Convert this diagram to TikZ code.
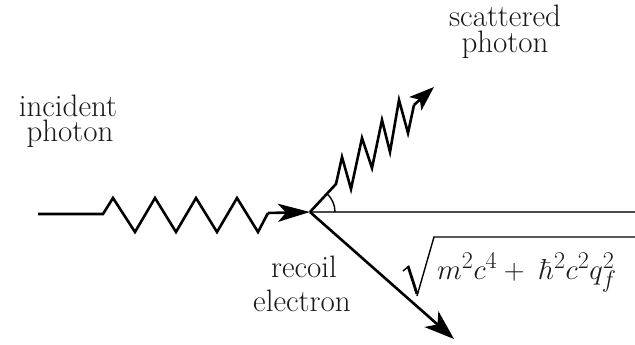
\documentclass[tikz,border=0pt]{standalone}
\usetikzlibrary{arrows.meta}
\tikzset{
  lbl/.style={font=\fontsize{31}{32}\selectfont, text=black!90, inner sep=0pt, anchor=base},
  wave/.style={line width=2.6pt, line join=miter},
  tipin/.style={-{Stealth[length=32pt,width=18pt,inset=8pt]}},
  tipsc/.style={-{Stealth[length=25pt,width=18pt,inset=6pt]}},
  tipel/.style={-{Stealth[length=30pt,width=21pt,inset=8pt]}},
  axisline/.style={line width=2.8pt, draw=black!70},
  thin/.style={line width=1.4pt},
}
\begin{document}
\begin{tikzpicture}[x=1pt,y=-1pt]
\useasboundingbox (0,0) rectangle (635,345);
\clip (0,0) rectangle (635,345);
% key points
\coordinate (v) at (310,212);
\coordinate (a) at (38,214);
\coordinate (b) at (268,213);
\coordinate (s0) at (336,184);
\coordinate (s1) at (414,105);
\coordinate (st) at (434,87);
\coordinate (e) at (454,339);
\coordinate (r) at (640,212);
\coordinate (rt) at (640,237);
% horizontal axis
\draw[axisline] (v) -- (r);
% incident photon
\draw[wave] (a) -- (103,214) -- (113,198) -- (135,232) -- (155,198) -- (176,232)
  -- (196,198) -- (217,232) -- (237,198) -- (258,232) -- (b);
\draw[wave, tipin] (b) -- (v);
% scattered photon
\draw[wave] (v) -- (s0) -- (342,157) -- (351,189) -- (362,138) -- (372,168)
  -- (382,120) -- (390,152) -- (399,100) -- (408,133) -- (s1);
\draw[wave, tipsc] (s1) -- (st);
% angle arc
\draw[thin] (335,212) arc[start angle=0, end angle=-48, radius=25];
% recoil electron
\draw[wave, tipel] (v) -- (e);
% radical
\draw[thin] (403,271) -- (409,266);
\draw[line width=2.8pt] (408,266) -- (417,294);
\draw[thin] (417,296) -- (434,237) -- (rt);
\node[font=\Huge, text=black!90, inner sep=0pt, anchor=base west, scale=1.16] (f) at (437,279) {$m^2c^4 + \; \hbar^2c^2q_f^2$};
% labels
\node[lbl] (i1) at (68,117) {incident};
\node[lbl] (i2) at (70,142) {photon};
\node[lbl] (s1t) at (505,27) {scattered};
\node[lbl] (s2t) at (505,53) {photon};
\node[lbl] (r1) at (304,277) {recoil};
\node[lbl] (r2) at (302,311) {electron};
\end{tikzpicture}
\end{document}
